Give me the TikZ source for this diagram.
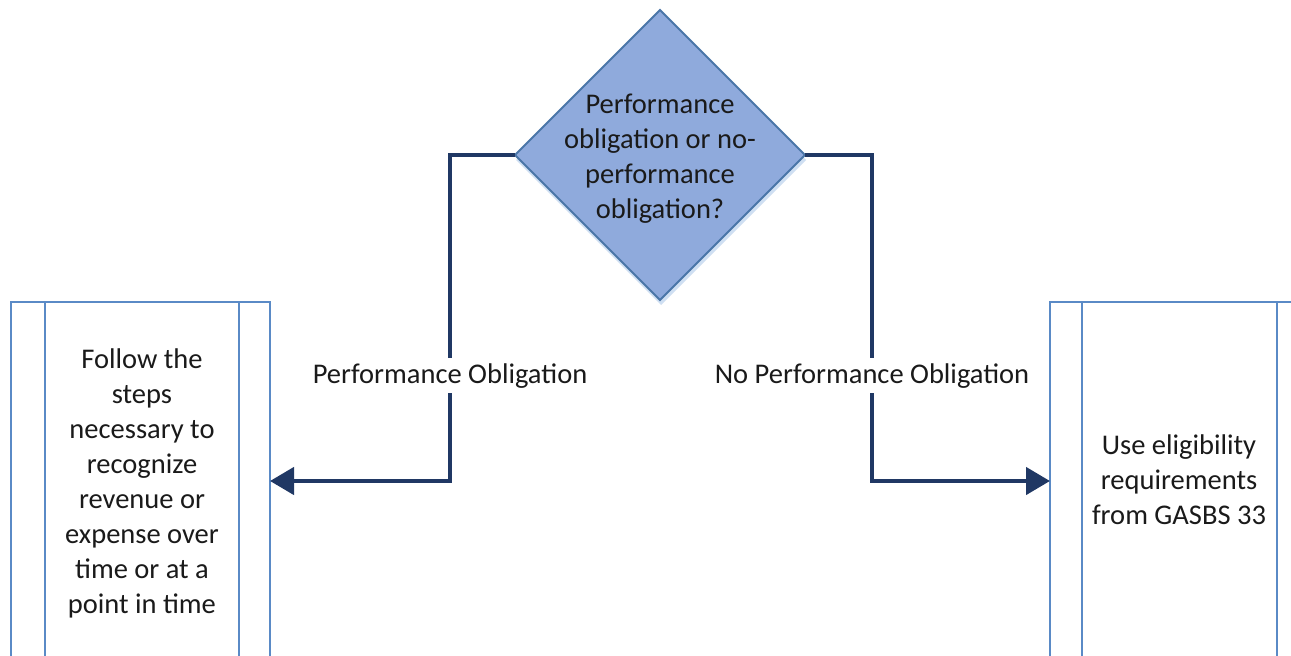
\documentclass[tikz,border=0pt]{standalone}
\usepackage{fontspec}
\setmainfont{Carlito}
\usetikzlibrary{shapes.geometric,arrows.meta}
\definecolor{navy}{HTML}{203864}
\definecolor{boxblue}{HTML}{5A8AC6}
\definecolor{diafill}{HTML}{8FAADC}
\definecolor{diaedge}{HTML}{4A76A8}
\definecolor{shadowblue}{HTML}{CFDFF2}
\definecolor{txt}{HTML}{1A1A1A}
\tikzset{
  procbox/.style={draw=boxblue, line width=2.5pt, rectangle, inner sep=0pt, outer sep=0pt},
  boxline/.style={draw=boxblue, line width=2.5pt},
  decision/.style={diamond, draw=diaedge, line width=2pt, fill=diafill, inner sep=0pt, outer sep=0pt, minimum width=290, minimum height=290},
  dshadow/.style={diamond, fill=shadowblue, inner sep=0pt, outer sep=0pt, minimum width=290, minimum height=290},
  btext/.style={align=center, inner sep=0pt, text=txt},
  lab/.style={fill=white, inner xsep=2pt, inner ysep=5pt, text=txt},
  conn/.style={draw=navy, line width=4.5pt, -{Triangle[length=24pt,width=27pt]}},
}
\begin{document}
\begin{tikzpicture}[x=1pt, y=-1pt, font=\fontsize{28.5}{35}\selectfont]
\clip (0,0) rectangle (1291,656);
\fill[white] (0,0) rectangle (1291,656);
% side boxes
\node[procbox, minimum width=259, minimum height=418] (lbox) at (140.5,511) {};
\draw[boxline] ([xshift=34]lbox.north west) -- ([xshift=34]lbox.south west);
\draw[boxline] ([xshift=-31]lbox.north east) -- ([xshift=-31]lbox.south east);
\node[procbox, minimum width=258, minimum height=418] (rbox) at (1179,511) {};
\draw[boxline] ([xshift=32]rbox.north west) -- ([xshift=32]rbox.south west);
\draw[boxline] ([xshift=-31]rbox.north east) -- ([xshift=-31]rbox.south east);
\node[btext] (ltext) at (142,483.5) {Follow the\\steps\\necessary to\\recognize\\revenue or\\expense over\\time or at a\\point in time};
\node[btext] (rtext) at (1179,480) {Use eligibility\\requirements\\from GASBS 33};
% decision
\node[dshadow] (dsh) at (661,160) {};
\node[decision] (dia) at (660,155) {};
\node[btext] (qtext) at (660,158.5) {Performance\\obligation or no-\\performance\\obligation?};
% connectors
\coordinate (lcorner) at (450,481);
\coordinate (rcorner) at (872,481);
\draw[conn] (dia.west) -| (lcorner) -- (lcorner -| lbox.east);
\draw[conn] (dia.east) -| (rcorner) -- (rcorner -| rbox.west);
\node[lab, anchor=base] (plab) at (450,383) {Performance Obligation};
\node[lab, anchor=base] (nplab) at (872,383) {No Performance Obligation};
\end{tikzpicture}
\end{document}
